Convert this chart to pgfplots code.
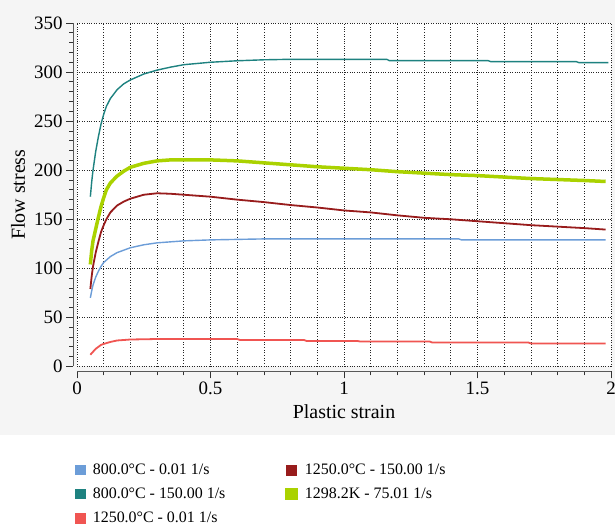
\documentclass[border=0pt]{standalone}
\usepackage{fontspec}
\setmainfont{Liberation Serif}
\usepackage{pgfplots}
\pgfplotsset{compat=1.18}

\definecolor{cblue}{RGB}{108,157,216}
\definecolor{cteal}{RGB}{30,130,128}
\definecolor{cred}{RGB}{240,85,82}
\definecolor{cdred}{RGB}{152,28,28}
\definecolor{cgreen}{RGB}{170,210,0}
\definecolor{bggray}{RGB}{245,245,245}

\begin{document}
\begin{tikzpicture}[x=1bp,y=1bp]
\useasboundingbox (0,0) rectangle (615,529);
\fill[white] (0,0) rectangle (615,529);
\fill[bggray] (0,94) rectangle (615,529);
\begin{axis}[
    at={(77bp,162.5bp)}, anchor=south west,
    width=534bp, height=343.5bp, scale only axis,
    xmin=0, xmax=2, ymin=0, ymax=350,
    xtick distance=0.5, ytick distance=50,
    minor x tick num=4, minor y tick num=4,
    axis x line*=bottom, axis y line*=left,
    axis x line shift=5bp, axis y line shift=4bp,
    axis line style={-, black!65, line width=1bp},
    tick align=outside,
    major tick length=7bp, minor tick length=4bp,
    tick style={black!80, line width=0.8bp},
    xmajorgrids, xminorgrids, ymajorgrids,
    grid style={dotted, black!85, line width=0.7bp},
    minor grid style={dotted, black!85, line width=0.7bp},
    axis background/.style={fill=white},
    /pgf/number format/assume math mode=true,
    tick label style={font=\fontsize{19}{19}\selectfont},
    label style={font=\fontsize{20}{20}\selectfont},
    xlabel={Plastic strain}, ylabel={Flow stress},
    x label style={at={(axis description cs:0.5,-0.1325)}, anchor=center},
    y label style={at={(axis description cs:-0.1105,0.5)}, anchor=center},
    legend columns=2,
    legend cell align=left,
    legend image code/.code={\fill[#1] (0bp,-4.5bp) rectangle (9bp,4.5bp);},
    legend style={at={(axis description cs:-0.004,-0.272)}, anchor=north west,
      draw=none, fill=none, inner sep=0pt,
      font=\fontsize{16}{18}\selectfont, row sep=4bp,
      /tikz/column 1/.style={column sep=5bp},
      /tikz/column 2/.style={column sep=58bp},
      /tikz/column 3/.style={column sep=5bp},
      nodes={inner sep=2bp, text height=12bp, text depth=4bp}},
    no marks,
]
\addplot[color=cblue, line width=1.4bp] coordinates {
(0.05,70)(0.055,77)(0.06,83)(0.07,91)(0.08,97)(0.09,102)(0.1,106)(0.125,112)
(0.15,116)(0.2,121)(0.25,124)(0.3,126)(0.4,128)(0.5,129)(0.6,129.5)(0.7,130)
(1.0,130)(1.43,130)(1.44,129)(1.98,129)};
\addlegendentry{800.0°C - 0.01 1/s}

\addplot[color=cdred, line width=1.8bp] coordinates {
(0.05,79)(0.055,92)(0.06,102)(0.07,116)(0.08,127)(0.09,137)(0.1,144)(0.11,150)
(0.125,157)(0.15,164)(0.175,168)(0.2,171)(0.25,175)(0.3,176.5)(0.35,176)(0.4,175)
(0.5,173)(0.6,170)(0.7,167.5)(0.8,164.5)(0.9,162)(1.0,159)(1.1,157)(1.2,154)
(1.3,151.5)(1.4,150)(1.5,148)(1.6,146)(1.7,144)(1.8,142.5)(1.9,141)(1.98,139.5)};
\addlegendentry{1250.0°C - 150.00 1/s}

\addplot[color=cteal, line width=1.4bp] coordinates {
(0.05,173)(0.055,188)(0.06,200)(0.07,219)(0.08,234)(0.09,247)(0.1,257)(0.11,265)
(0.125,273)(0.15,282)(0.175,288)(0.2,292)(0.25,298)(0.3,302)(0.35,305)(0.4,307.5)
(0.5,310)(0.6,311.5)(0.7,312.5)(0.8,313)(1.0,313)(1.16,313)(1.17,311.6)(1.54,311.6)
(1.55,310.6)(1.87,310.6)(1.88,309.6)(1.99,309.6)};
\addlegendentry{800.0°C - 150.00 1/s}

\addplot[color=cgreen, line width=3.5bp] coordinates {
(0.05,104)(0.055,118)(0.06,128)(0.07,140)(0.08,152)(0.09,163)(0.1,172)(0.11,180)
(0.125,187)(0.15,194)(0.175,199)(0.2,203)(0.25,207)(0.3,209.5)(0.35,210.5)(0.5,210.5)
(0.6,209.5)(0.7,207.5)(0.8,205.5)(0.9,203.5)(1.0,202)(1.1,200.5)(1.2,198.5)(1.3,197)
(1.4,195.5)(1.5,194.5)(1.6,193)(1.7,191.5)(1.8,190.5)(1.9,189.5)(1.98,188.5)};
\addlegendentry{1298.2K - 75.01 1/s}

\addplot[color=cred, line width=1.8bp] coordinates {
(0.05,12)(0.06,15)(0.07,18)(0.08,20)(0.09,22)(0.1,23)(0.125,25)(0.15,26.5)
(0.2,27.5)(0.3,28)(0.6,28)(0.61,27)(0.85,27)(0.86,26)(1.05,26)(1.06,25.5)
(1.32,25.5)(1.33,24.5)(1.69,24.5)(1.7,23.5)(1.98,23.5)};
\addlegendentry{1250.0°C - 0.01 1/s}
\end{axis}
\end{tikzpicture}
\end{document}
